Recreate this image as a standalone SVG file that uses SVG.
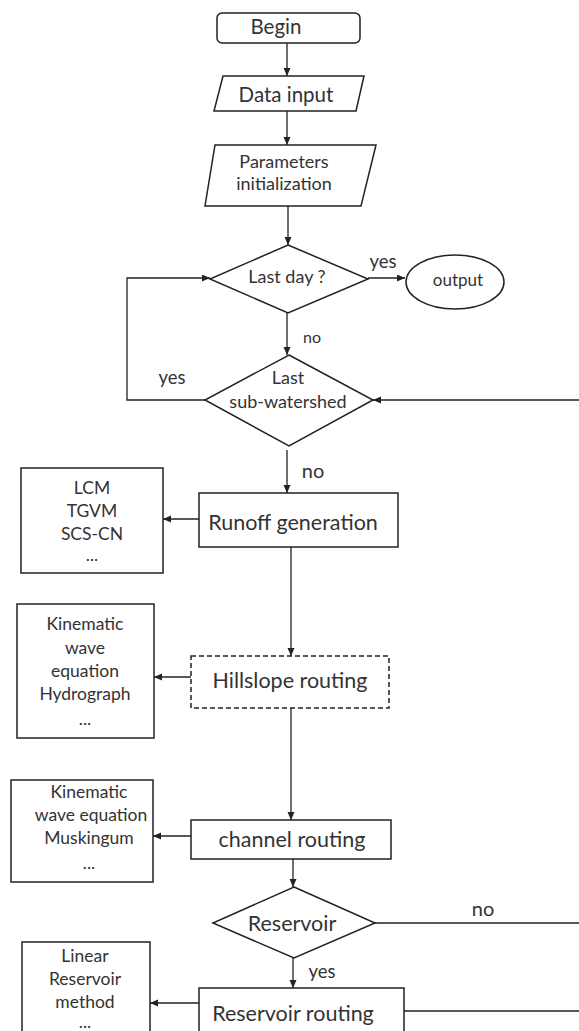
<svg xmlns="http://www.w3.org/2000/svg" width="579" height="1031" viewBox="0 0 579 1031">
<defs>
<marker id="ah" markerUnits="userSpaceOnUse" markerWidth="9" markerHeight="8" refX="8" refY="3.5" orient="auto">
<path d="M0,0 L8,3.5 L0,7 z" fill="#222"/>
</marker>
<style>
.s{fill:#fff;stroke:#222;stroke-width:1.5}
.d{stroke-dasharray:5,3}
.c{fill:none;stroke:#222;stroke-width:1.3}
.a{marker-end:url(#ah)}
text{font-family:Lato,"Liberation Sans",sans-serif;fill:#333;text-anchor:middle;dominant-baseline:central}
.t0{font-size:20.5px}
.t1{font-size:18px}
.t2{font-size:21.5px}
.t3{font-size:17.5px}
.to{font-size:17px}
.ty{font-size:18.5px}
.tn{font-size:16px}
.tN{font-size:20px}
</style>
</defs>
<rect width="579" height="1031" fill="#fff"/>
<g id="connectors">
<line class="c a" x1="287" y1="43" x2="287" y2="76"/>
<line class="c a" x1="287" y1="111" x2="287" y2="145"/>
<line class="c a" x1="288" y1="202" x2="288" y2="245"/>
<line class="c a" x1="368" y1="278" x2="405" y2="278"/>
<line class="c a" x1="287" y1="313" x2="287" y2="355"/>
<polyline class="c a" points="205,400 127,400 127,278 210,278"/>
<line class="c a" x1="579" y1="400" x2="373" y2="400"/>
<line class="c a" x1="287" y1="450" x2="287" y2="493"/>
<line class="c a" x1="199" y1="519" x2="163" y2="519"/>
<line class="c a" x1="291" y1="537" x2="291" y2="656"/>
<line class="c a" x1="191" y1="677" x2="154" y2="677"/>
<line class="c a" x1="291" y1="708" x2="291" y2="820"/>
<line class="c a" x1="191" y1="836" x2="153" y2="836"/>
<line class="c a" x1="293" y1="859" x2="293" y2="887"/>
<line class="c" x1="375" y1="923" x2="579" y2="923"/>
<line class="c a" x1="293" y1="958" x2="293" y2="988"/>
<line class="c a" x1="199" y1="1003" x2="150" y2="1003"/>
<line class="c" x1="404" y1="1011" x2="579" y2="1011"/>
<text class="ty" x="383" y="261">yes</text>
<text class="tn" x="312" y="336">no</text>
<text class="ty" x="172" y="377">yes</text>
<text class="tN" x="313" y="470">no</text>
<text class="tN" x="483" y="908">no</text>
<text class="ty" x="322" y="971">yes</text>
</g>
<g id="begin">
<rect class="s" x="217" y="13" width="143" height="30" rx="5"/>
<text class="t0" x="276" y="26">Begin</text>
</g>
<g id="data-input">
<polygon class="s" points="223,76 364,76 356,111 214,111"/>
<text class="t0" x="286" y="94">Data input</text>
</g>
<g id="parameters">
<polygon class="s" points="215,145 376,145 361,206 205,206"/>
<text class="t1" x="284" y="161">Parameters</text>
<text class="t1" x="284" y="183">initialization</text>
</g>
<g id="last-day">
<polygon class="s" points="288,245 368,279 288,313 210,279"/>
<text class="t1" x="287" y="276">Last day ?</text>
</g>
<g id="output">
<ellipse class="s" cx="455" cy="282" rx="49" ry="27"/>
<text class="to" x="458" y="279">output</text>
</g>
<g id="last-sub-watershed">
<polygon class="s" points="289,355 373,400 289,446 205,400"/>
<text class="t1" x="288" y="377">Last</text>
<text class="t1" x="288" y="401">sub-watershed</text>
</g>
<g id="runoff-methods">
<rect class="s" x="21" y="468" width="142" height="105"/>
<text class="t3" x="92" y="487">LCM</text>
<text class="t3" x="92" y="510">TGVM</text>
<text class="t3" x="92" y="533">SCS-CN</text>
<text class="t3" x="92" y="554">...</text>
</g>
<g id="runoff-generation">
<rect class="s" x="199" y="493" width="199" height="54"/>
<text class="t2" x="293" y="522">Runoff generation</text>
</g>
<g id="hillslope-methods">
<rect class="s" x="17" y="604" width="137" height="134"/>
<text class="t3" x="85" y="623">Kinematic</text>
<text class="t3" x="85" y="647">wave</text>
<text class="t3" x="85" y="670">equation</text>
<text class="t3" x="85" y="693">Hydrograph</text>
<text class="t3" x="85" y="718">...</text>
</g>
<g id="hillslope-routing">
<rect class="s d" x="191" y="656" width="198" height="52"/>
<text class="t2" x="290" y="680">Hillslope routing</text>
</g>
<g id="channel-methods">
<rect class="s" x="11" y="780" width="142" height="102"/>
<text class="t3" x="89" y="791">Kinematic</text>
<text class="t3" x="91" y="814">wave equation</text>
<text class="t3" x="89" y="837">Muskingum</text>
<text class="t3" x="89" y="862">...</text>
</g>
<g id="channel-routing">
<rect class="s" x="191" y="820" width="200" height="39"/>
<text class="t2" x="292" y="839">channel routing</text>
</g>
<g id="reservoir">
<polygon class="s" points="294,887 375,923 294,958 213,923"/>
<text class="t2" x="292" y="923">Reservoir</text>
</g>
<g id="reservoir-methods">
<rect class="s" x="22" y="942" width="128" height="100"/>
<text class="t3" x="85" y="955">Linear</text>
<text class="t3" x="85" y="978">Reservoir</text>
<text class="t3" x="85" y="1001">method</text>
<text class="t3" x="85" y="1021">...</text>
</g>
<g id="reservoir-routing">
<rect class="s" x="199" y="988" width="205" height="50"/>
<text class="t2" x="293" y="1013">Reservoir routing</text>
</g>
</svg>
